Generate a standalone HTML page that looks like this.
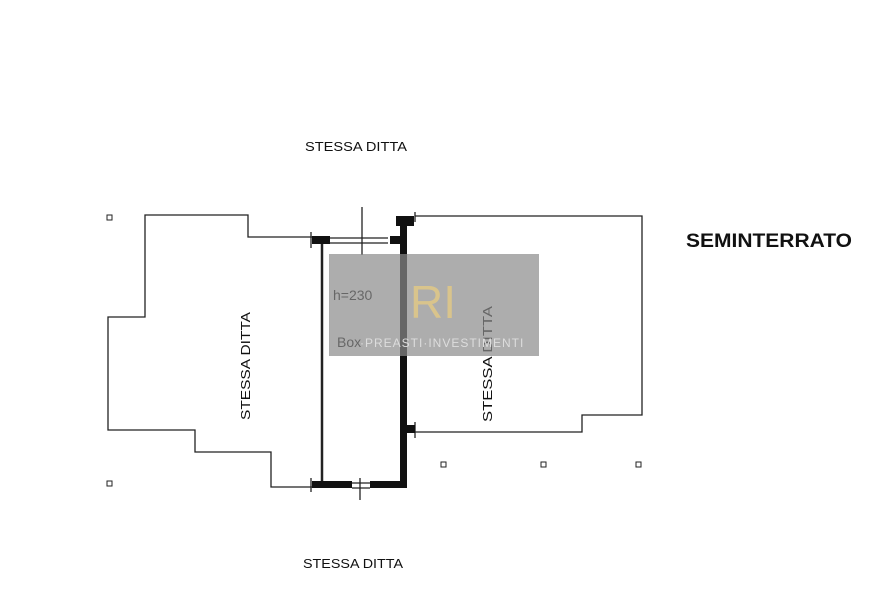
<!DOCTYPE html>
<html><head><meta charset="utf-8"><style>
html,body{margin:0;padding:0;background:#fff;}
svg{display:block;}
text{font-family:"Liberation Sans",sans-serif;fill:#111;}
</style></head><body>
<svg width="878" height="616" viewBox="0 0 878 616" xmlns="http://www.w3.org/2000/svg">
<rect width="878" height="616" fill="#fff"/>
<g fill="none" stroke="#222" stroke-width="1.3">
<polyline points="312,237 248,237 248,215 145,215 145,317 108,317 108,430 195,430 195,452 271,452 271,487 312,487"/>
<polyline points="415,216 642,216 642,415 582,415 582,432 415,432"/>
<line x1="322" y1="242" x2="322" y2="484" stroke-width="2.5"/>
<line x1="330" y1="238" x2="388" y2="238"/>
<line x1="330" y1="243" x2="388" y2="243"/>
<line x1="352" y1="483" x2="370" y2="483"/>
<line x1="352" y1="488" x2="370" y2="488"/>
<line x1="362" y1="207" x2="362" y2="255"/>
<line x1="360" y1="478" x2="360" y2="500"/>
<line x1="311" y1="232" x2="311" y2="248"/>
<line x1="311" y1="478" x2="311" y2="492"/>
<line x1="415" y1="212" x2="415" y2="222"/>
<line x1="415" y1="422" x2="415" y2="438"/>
</g>
<g fill="#111">
<rect x="400" y="216" width="7" height="272"/>
<rect x="396" y="216" width="18" height="10"/>
<rect x="312" y="236" width="18" height="8"/>
<rect x="390" y="236" width="12" height="8"/>
<rect x="312" y="481" width="40" height="7"/>
<rect x="370" y="481" width="34" height="7"/>
<rect x="404" y="425" width="11" height="8"/>
</g>
<g fill="none" stroke="#222" stroke-width="1">
<rect x="107" y="215" width="5" height="5"/>
<rect x="107" y="481" width="5" height="5"/>
<rect x="441" y="462" width="5" height="5"/>
<rect x="541" y="462" width="5" height="5"/>
<rect x="636" y="462" width="5" height="5"/>
</g>
<text x="305" y="151" font-size="13" textLength="102" lengthAdjust="spacingAndGlyphs">STESSA DITTA</text>
<text x="303" y="568" font-size="13" textLength="100" lengthAdjust="spacingAndGlyphs">STESSA DITTA</text>
<text x="686" y="247" font-size="19" font-weight="bold" textLength="166" lengthAdjust="spacingAndGlyphs">SEMINTERRATO</text>
<text transform="translate(250,420) rotate(-90)" font-size="13" textLength="108" lengthAdjust="spacingAndGlyphs">STESSA DITTA</text>
<text transform="translate(492,422) rotate(-90)" font-size="13" textLength="116" lengthAdjust="spacingAndGlyphs">STESSA DITTA</text>
<text x="333" y="300" font-size="14">h=230</text>
<text x="337" y="347" font-size="14">Box</text>
<rect x="329" y="254" width="210" height="102" fill="#8a8a8a" opacity="0.7"/>
<text x="410" y="318" font-size="46" style="fill:#d9c48c">RI</text>
<text x="360" y="347" font-size="12" style="fill:#ddd" letter-spacing="1">·PREASTI·INVESTIMENTI</text>
</svg>
</body></html>
